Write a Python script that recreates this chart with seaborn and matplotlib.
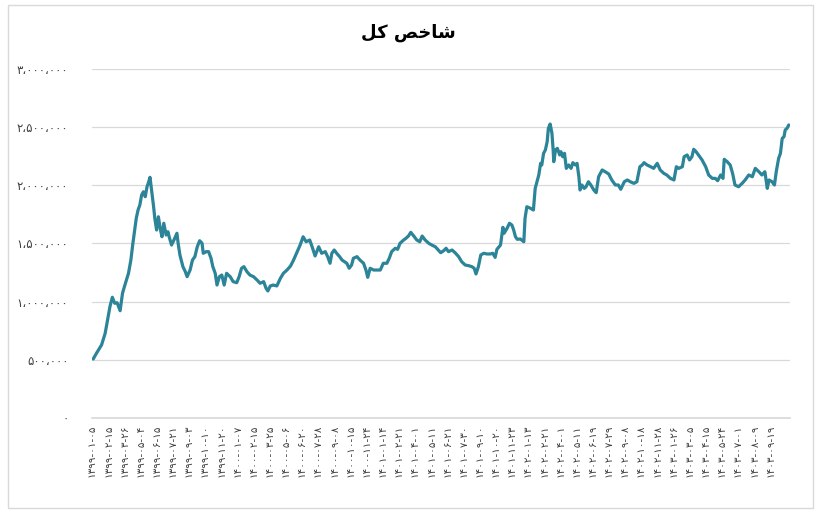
import matplotlib.pyplot as plt
import matplotlib.patches as mpatches
import seaborn as sns

# Persian digits for the date labels
FA_DIGITS = str.maketrans("0123456789", "۰۱۲۳۴۵۶۷۸۹")

# "شاخص کل" in presentation forms, visual order (matplotlib does no Arabic shaping)
title_text = "\uFEDE\uFB90 \uFEBA\uFEA7\uFE8E\uFEB7"

# trading-session number of each reading
session = [
    2, 8, 16, 22, 27, 30, 34, 38, 42, 47, 51, 55, 61, 65, 68, 71, 74, 77, 80, 83,
    86, 89, 92, 94, 97, 100, 103, 105, 108, 111, 114, 117, 120, 124, 127, 129, 133,
    137, 142, 144, 147, 152, 156, 159, 164, 168, 172, 176, 180, 184, 186, 191, 195,
    199, 202, 206, 209, 213, 217, 221, 225, 231, 236, 242, 246, 250, 254, 259, 264,
    270, 276, 281, 287, 291, 294, 298, 303, 309, 315, 320, 326, 332, 337, 342, 348,
    353, 358, 364, 368, 373, 379, 384, 390, 394, 398,
    401, 405, 409, 414, 418, 422, 426, 430, 434, 437, 443, 448, 454, 458, 461, 465,
    471, 476, 482, 487, 493, 497, 501, 507, 511, 515, 521, 525, 529, 533, 538, 543,
    548, 552, 557, 563, 568, 574, 579, 583, 588, 592, 596, 602, 607, 613, 618, 624,
    630, 635, 639, 642, 646, 650, 655, 660, 666, 670, 674, 677, 683, 685, 687, 689,
    694, 698, 702, 705, 708, 711, 716, 722,
    724, 727, 733, 738, 741, 747, 750, 752, 755, 758, 761, 763, 766, 769, 771, 772,
    775, 778, 782, 784, 787, 790, 793, 797, 801, 804, 808, 811, 814, 816, 819, 823,
    826, 830, 834, 839, 843, 847, 853, 858, 864, 869, 875, 880, 884, 890, 895, 900,
    906, 911, 916, 920, 923, 928, 934, 939, 945, 950, 956, 961, 967, 973, 977, 981,
    987, 990, 995, 999, 1003, 1006, 1010, 1014, 1020, 1026, 1031, 1037, 1042, 1046,
    1051, 1055, 1057, 1062, 1067, 1071, 1075, 1081, 1087, 1092, 1098, 1104, 1109,
    1115, 1120, 1125, 1129, 1132, 1137, 1141, 1144, 1148, 1151, 1154, 1157, 1159,
    1162, 1165,
]

# index level, thousands
index_k = [
    507, 561, 628, 728, 871, 957, 1038, 986, 991, 922, 1072, 1143, 1244, 1358, 1487,
    1601, 1717, 1788, 1831, 1917, 1945, 1902, 1988, 2017, 2069, 1945, 1816, 1717,
    1616, 1730, 1631, 1558, 1674, 1573, 1601, 1558, 1487, 1530, 1588, 1502, 1401,
    1301, 1258, 1215, 1272, 1358, 1387, 1472, 1524, 1502, 1416, 1430, 1430, 1373,
    1301, 1244, 1143, 1215, 1229, 1143, 1244, 1215, 1172, 1163, 1215, 1287, 1301,
    1258, 1229, 1215, 1186, 1158, 1172, 1115, 1092, 1135, 1143, 1135, 1201, 1244,
    1272, 1307, 1358, 1416, 1487, 1558, 1515, 1530, 1472, 1393, 1472, 1416, 1430,
    1387, 1330,
    1416, 1444, 1416, 1387, 1358, 1344, 1330, 1287, 1315, 1373, 1387, 1358, 1330,
    1272, 1209, 1287, 1272, 1272, 1272, 1330, 1330, 1373, 1430, 1459, 1450, 1502,
    1530, 1545, 1564, 1596, 1564, 1530, 1515, 1564, 1530, 1502, 1487, 1472, 1444,
    1421, 1438, 1459, 1430, 1444, 1421, 1387, 1344, 1315, 1309, 1301, 1287, 1238,
    1301, 1401, 1416, 1410, 1410, 1416, 1381, 1450, 1487, 1564, 1639, 1588, 1631,
    1674, 1659, 1616, 1558, 1536, 1539, 1515,
    1717, 1816, 1803, 1788, 1974, 2089, 2189, 2175, 2275, 2304, 2375, 2490, 2527,
    2447, 2304, 2203, 2304, 2318, 2261, 2289, 2246, 2275, 2146, 2175, 2146, 2195,
    2175, 2189, 2074, 1960, 2003, 1974, 1988, 2031, 2003, 1960, 1937, 2074, 2132,
    2117, 2097, 2046, 2003, 2003, 1966, 2031, 2046, 2031, 2017, 2031, 2160, 2175,
    2195, 2175, 2160, 2146, 2189, 2132, 2103, 2089, 2060, 2046, 2160, 2146, 2160,
    2246, 2261, 2218, 2246, 2310, 2289, 2261, 2218, 2160, 2089, 2060, 2060, 2040,
    2089, 2060, 2224, 2203, 2175, 2103, 2003, 1988, 2017, 2046, 2089, 2074, 2146,
    2117, 2089, 2117, 1974, 2046, 2031, 2003, 2117, 2232, 2275, 2404, 2418, 2476,
    2490, 2519,
]

date_labels = [
    "1399-01-05", "1399-02-15", "1399-03-26", "1399-05-04", "1399-06-15",
    "1399-07-21", "1399-09-03", "1399-10-10", "1399-11-20", "1400-01-07",
    "1400-02-15", "1400-03-25", "1400-05-06", "1400-06-20", "1400-07-28",
    "1400-09-08", "1400-10-15", "1400-11-24", "1401-01-14", "1401-02-21",
    "1401-04-01", "1401-05-11", "1401-06-21", "1401-07-30", "1401-09-10",
    "1401-10-20", "1401-11-23", "1402-01-13", "1402-02-21", "1402-04-01",
    "1402-05-11", "1402-06-19", "1402-07-29", "1402-09-08", "1402-10-18",
    "1402-11-28", "1403-01-26", "1403-03-05", "1403-04-15", "1403-05-24",
    "1403-07-01", "1403-08-09", "1403-09-19",
]
label_every = 27  # sessions between shown dates

y_ticks = [0, 500000, 1000000, 1500000, 2000000, 2500000, 3000000]
y_labels = ["۰", "۵۰۰،۰۰۰", "۱،۰۰۰،۰۰۰", "۱،۵۰۰،۰۰۰", "۲،۰۰۰،۰۰۰", "۲،۵۰۰،۰۰۰", "۳،۰۰۰،۰۰۰"]

assert len(session) == len(index_k), (len(session), len(index_k))

sns.set_theme(style="white")
plt.rcParams["font.family"] = ["DejaVu Sans"]

fig = plt.figure(figsize=(8.23, 5.12), dpi=100)
ax = fig.add_axes([92 / 823, 94 / 512, 698 / 823, 349 / 512])

sns.lineplot(
    x=session,
    y=[v * 1000 for v in index_k],
    ax=ax,
    color="#2c8498",
    linewidth=2.3,
)

ax.set_xlim(0, 1167)
ax.set_ylim(0, 3000000)
ax.set_yticks(y_ticks)
ax.set_yticklabels(y_labels, fontsize=8.5, color="#404040")
tick_pos = [i * label_every for i in range(len(date_labels))]
ax.set_xticks(tick_pos)
ax.set_xticklabels(
    [d.translate(FA_DIGITS) for d in date_labels],
    rotation=90,
    fontsize=7.5,
    color="#404040",
)
ax.tick_params(axis="y", length=0, pad=17)
ax.tick_params(axis="x", length=0, pad=5)
ax.yaxis.grid(True, color="#d9d9d9", linewidth=0.9)
ax.xaxis.grid(False)
for side in ["top", "right", "left"]:
    ax.spines[side].set_visible(False)
ax.spines["bottom"].set_color("#d9d9d9")
ax.set_xlabel("")
ax.set_ylabel("")

fig.text(408 / 823, 1 - 33 / 512, title_text, ha="center", va="center",
         fontsize=13, fontweight="bold", color="black")

# chart-area border
fig.patches.append(
    mpatches.Rectangle(
        (8 / 823, 4 / 512), 805 / 823, 503 / 512,
        transform=fig.transFigure, fill=False, edgecolor="#d9d9d9", linewidth=1,
    )
)

fig.savefig("out.png", dpi=100)
